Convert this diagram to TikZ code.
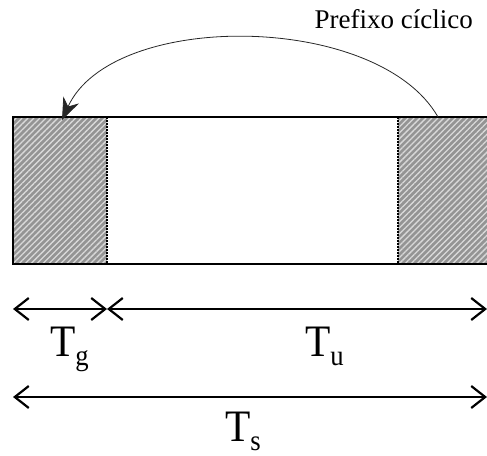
\documentclass[tikz,border=0pt]{standalone}
\usepackage{fontspec}
\setmainfont{Liberation Serif}
\usepackage{tikz}
\usetikzlibrary{arrows.meta,positioning,patterns.meta}

\newcommand{\Tsub}[1]{\scalebox{0.92}[1]{T\raisebox{-0.2em}{\fontsize{29}{29}\selectfont #1}}}

\begin{document}
\begin{tikzpicture}[
    x=1pt, y=-1pt,
    hatch/.style={fill=black!42, pattern={Lines[angle=45,distance=4.2pt,line width=1.3pt]}, pattern color=white!85!black},
    edge/.style={line width=1.2pt},
    sep/.style={line width=1.3pt, dash pattern=on 2pt off 1pt},
    span/.style={line width=1.5pt, {Straight Barb[length=14pt,width=22pt,line width=2.2pt]}-{Straight Barb[length=14pt,width=22pt,line width=2.2pt]}},
    curved/.style={line width=0.8pt, black!85, -{Stealth[length=22pt,width=17pt]}},
    lbl/.style={inner sep=0pt, font=\fontsize{45}{45}\selectfont},
]
    \useasboundingbox (0,0) rectangle (487,455);

    % Symbol frame
    \coordinate (fl) at (13,117);
    \coordinate (gr) at (107,117);
    \coordinate (pl) at (398,117);
    \coordinate (fr) at (487,117);
    \fill[black!42] (fl) rectangle (107,264);
    \fill[black!42] (pl) rectangle (487,264);
    \fill[hatch] (fl) rectangle (107,264);
    \fill[hatch] (pl) rectangle (487,264);
    \draw[edge] (fr) -- (fl) -- (13,264) -- (487,264);
    \draw[sep] (gr) -- (107,264);
    \draw[sep] (pl) -- (398,264);

    % Copy of the prefix
    \coordinate (src) at (438,117);
    \coordinate (dst) at (62,120);
    \draw[curved] (src) .. controls (378,12) and (112,10) .. (dst);
    \node[anchor=base east, inner sep=0pt, font=\fontsize{27}{27}\selectfont] (pref) at (473,28) {Prefixo cíclico};

    % Durations
    \coordinate (ga) at (13,309);
    \coordinate (gb) at (107,309);
    \coordinate (ua) at (487,309);
    \coordinate (sa) at (13,397);
    \coordinate (sb) at (487,397);
    \draw[span] (ga) -- (gb);
    \draw[span] (gb) -- (ua);
    \draw[span] (sa) -- (sb);

    \node[lbl, anchor=base west] (tg) at (50,356) {\Tsub{g}};
    \node[lbl, anchor=base west] (tu) at (305,356) {\Tsub{u}};
    \node[lbl, anchor=base west] (ts) at (225,441) {\Tsub{s}};
\end{tikzpicture}
\end{document}
